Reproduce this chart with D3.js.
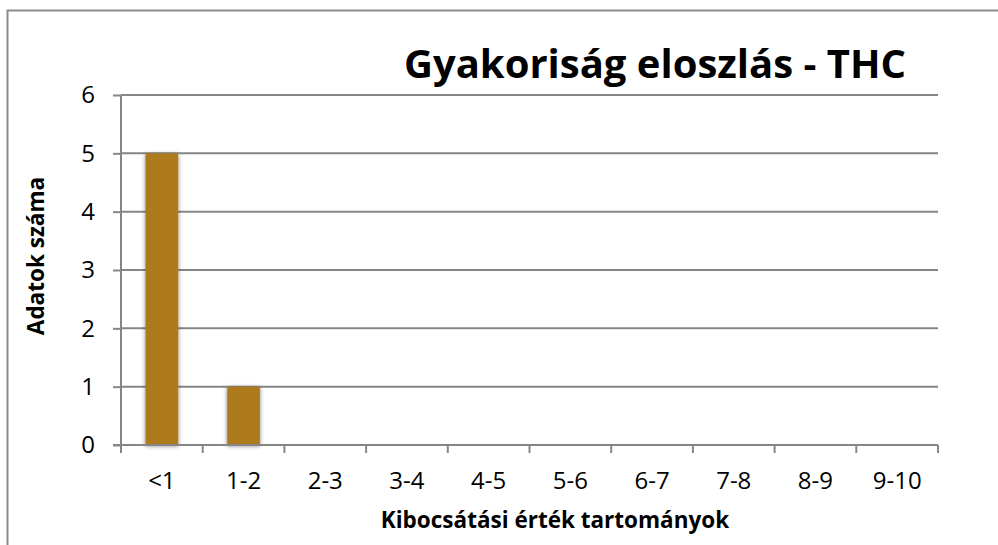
<!DOCTYPE html>
<html>
<head>
<meta charset="utf-8">
<style>
body { margin: 0; background: #fff; }
svg { display: block; }
</style>
</head>
<body>
<svg width="998" height="545"></svg>
<script src="https://d3js.org/d3.v7.min.js"></script>
<script>

var categories = ["<1", "1-2", "2-3", "3-4", "4-5", "5-6", "6-7", "7-8", "8-9", "9-10"];
var counts = [5, 1, 0, 0, 0, 0, 0, 0, 0, 0];
var yTicks = [0, 1, 2, 3, 4, 5, 6];

var chartTitle = "Gyakoriság eloszlás - THC";
var xTitle = "Kibocsátási érték tartományok";
var yTitle = "Adatok száma";

var svg = d3.select("svg");
var font = "'Open Sans', 'DejaVu Sans', sans-serif";
var gridColor = "#868686";

var plotLeft = 121, plotRight = 938, plotTop = 95, plotBottom = 445;

var x = d3.scaleBand()
    .domain(categories)
    .range([plotLeft, plotRight])
    .paddingInner(0.6)
    .paddingOuter(0.3);

var y = d3.scaleLinear()
    .domain([0, 6])
    .range([plotBottom, plotTop]);

// outer chart frame (runs off the page on the right and bottom)
svg.append("rect")
    .attr("x", 7.5)
    .attr("y", 10.5)
    .attr("width", 1100)
    .attr("height", 600)
    .attr("fill", "none")
    .attr("stroke", "#8c8c8c")
    .attr("stroke-width", 2);

var defs = svg.append("defs");
var shadow = defs.append("filter")
    .attr("id", "shadow")
    .attr("x", "-30%").attr("y", "-10%")
    .attr("width", "160%").attr("height", "120%");
shadow.append("feDropShadow")
    .attr("dx", 0).attr("dy", 1)
    .attr("stdDeviation", 2.2)
    .attr("flood-color", "#000")
    .attr("flood-opacity", 0.5);

// gridlines
svg.append("g")
  .selectAll("line")
  .data(yTicks.filter(function(d) { return d > 0; }))
  .enter().append("line")
    .attr("x1", plotLeft)
    .attr("x2", plotRight)
    .attr("y1", function(d) { return y(d); })
    .attr("y2", function(d) { return y(d); })
    .attr("stroke", gridColor)
    .attr("stroke-width", 2);

// y axis
var yAxis = svg.append("g")
    .attr("transform", "translate(" + plotLeft + ",0)")
    .call(d3.axisLeft(y).tickValues(yTicks).tickFormat(d3.format("d")).tickSize(8).tickPadding(18));
yAxis.select(".domain").attr("stroke", gridColor).attr("stroke-width", 2)
    .attr("d", "M0," + plotTop + "V" + (plotBottom + 1));
yAxis.selectAll(".tick line").attr("stroke", gridColor).attr("stroke-width", 2);
yAxis.selectAll("text")
    .attr("font-family", font)
    .attr("font-size", 24)
    .attr("fill", "#000");

// bars
var barData = categories.map(function(c, i) { return { cat: c, value: counts[i] }; })
    .filter(function(d) { return d.value > 0; });

svg.append("g")
  .selectAll("rect")
  .data(barData)
  .enter().append("rect")
    .attr("x", function(d) { return x(d.cat); })
    .attr("y", function(d) { return y(d.value); })
    .attr("width", x.bandwidth())
    .attr("height", function(d) { return y(0) - y(d.value); })
    .attr("fill", "#ad7a1d")
    .attr("filter", "url(#shadow)");

// x axis
var xAxis = svg.append("g")
    .attr("transform", "translate(0," + plotBottom + ")")
    .call(d3.axisBottom(x).tickSize(0).tickPadding(27));
xAxis.select(".domain").remove();
xAxis.selectAll("text")
    .attr("font-family", font)
    .attr("font-size", 24)
    .attr("fill", "#000");

var step = x.step();
var bounds = categories.map(function(c) { return x(c) + x.bandwidth() / 2 - step / 2; });
bounds.push(plotRight);

svg.append("line")
    .attr("x1", plotLeft - 8)
    .attr("x2", plotRight)
    .attr("y1", plotBottom)
    .attr("y2", plotBottom)
    .attr("stroke", gridColor)
    .attr("stroke-width", 2);

svg.append("g")
  .selectAll("line")
  .data(bounds)
  .enter().append("line")
    .attr("x1", function(d) { return d; })
    .attr("x2", function(d) { return d; })
    .attr("y1", plotBottom)
    .attr("y2", plotBottom + 8)
    .attr("stroke", gridColor)
    .attr("stroke-width", 2);

// titles
svg.append("text")
    .attr("x", 655)
    .attr("y", 78)
    .attr("text-anchor", "middle")
    .attr("font-family", font)
    .attr("font-weight", "bold")
    .attr("font-size", 40)
    .attr("fill", "#000")
    .text(chartTitle);

svg.append("text")
    .attr("x", 555)
    .attr("y", 528)
    .attr("text-anchor", "middle")
    .attr("font-family", font)
    .attr("font-weight", "bold")
    .attr("font-size", 22.5)
    .attr("fill", "#000")
    .text(xTitle);

svg.append("text")
    .attr("transform", "translate(44,256) rotate(-90)")
    .attr("text-anchor", "middle")
    .attr("font-family", font)
    .attr("font-weight", "bold")
    .attr("font-size", 22.5)
    .attr("fill", "#000")
    .text(yTitle);

</script>
</body>
</html>
